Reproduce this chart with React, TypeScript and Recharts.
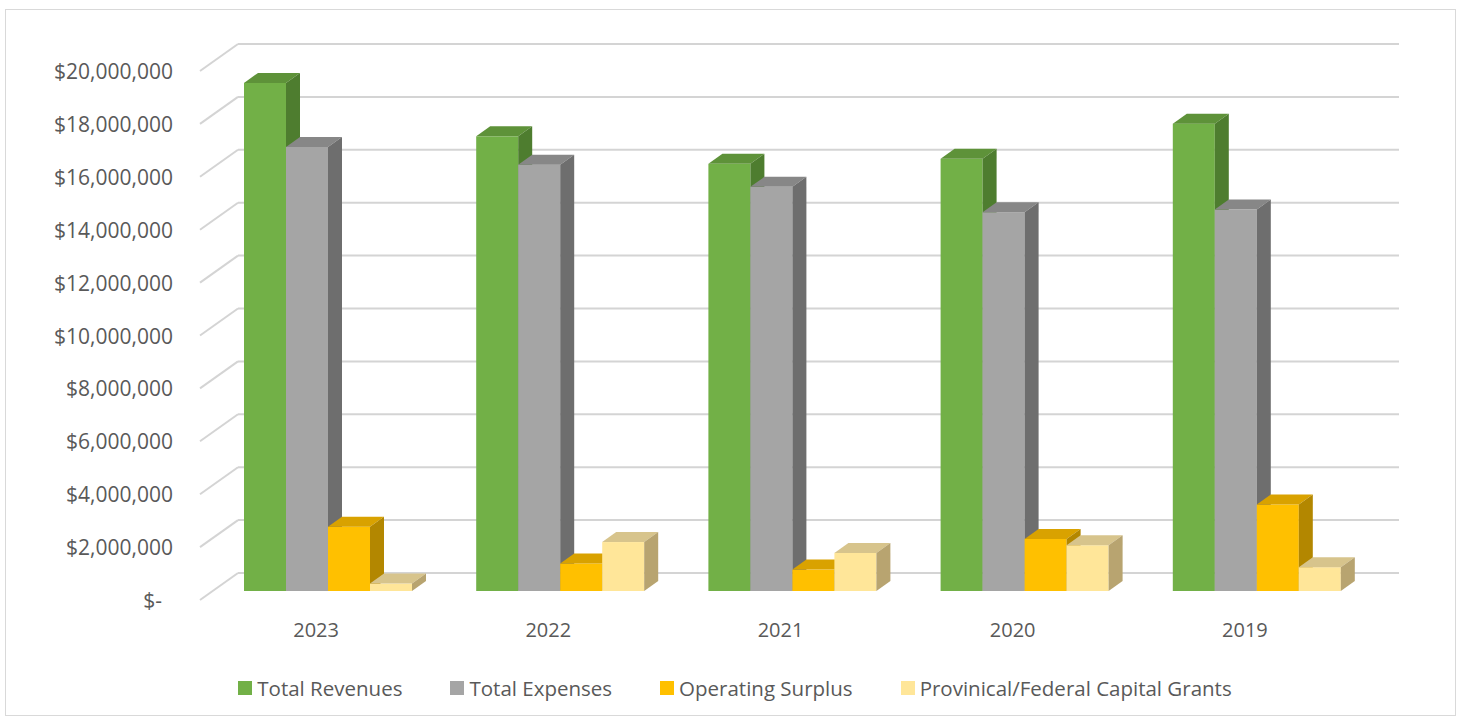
import { Bar, BarChart, CartesianGrid, XAxis, YAxis } from "recharts";

const years = ["2023", "2022", "2021", "2020", "2019"];
const totalRevenues = [19210000, 17190000, 16150000, 16340000, 17670000];
const totalExpenses = [16790000, 16120000, 15280000, 14320000, 14420000];
const operatingSurplus = [2430000, 1040000, 810000, 1970000, 3270000];
const capitalGrants = [280000, 1850000, 1440000, 1730000, 900000];
const yTicks = [0, 2000000, 4000000, 6000000, 8000000, 10000000, 12000000, 14000000, 16000000, 18000000, 20000000];

const data = years.map((year, i) => ({
  year,
  revenues: totalRevenues[i],
  expenses: totalExpenses[i],
  surplus: operatingSurplus[i],
  grants: capitalGrants[i],
}));

const SERIES = [
  { key: "revenues", name: "Total Revenues", face: "#72B047", top: "#5E9239", side: "#4E7D2F" },
  { key: "expenses", name: "Total Expenses", face: "#A5A5A5", top: "#878787", side: "#6E6E6E" },
  { key: "surplus", name: "Operating Surplus", face: "#FFC000", top: "#D9A200", side: "#B38700" },
  { key: "grants", name: "Provinical/Federal Capital Grants", face: "#FFE699", top: "#D7C48C", side: "#B8A470" },
];

// depth of the boxes and of the floor (oblique projection)
const BAR_DX = 14;
const BAR_DY = 10;
const WALL_DX = 26;
const WALL_DY = 18;
const FRONT_DX = 12;
const FRONT_DY = 9;

const PLOT_LEFT = 212;
const PLOT_RIGHT = 1373;
const TEXT = "#595959";
const FONT = "'Open Sans', 'Noto Sans', sans-serif";

function Box3D(props: any) {
  const { x, y, width: w, height: h, face, top, side } = props;
  if (!h || h <= 0) return null;
  return (
    <g>
      <rect x={x} y={y} width={w} height={h} fill={face} />
      <polygon
        points={`${x},${y} ${x + BAR_DX},${y - BAR_DY} ${x + w + BAR_DX},${y - BAR_DY} ${x + w},${y}`}
        fill={top}
      />
      <polygon
        points={`${x + w},${y} ${x + w + BAR_DX},${y - BAR_DY} ${x + w + BAR_DX},${y + h - BAR_DY} ${x + w},${y + h}`}
        fill={side}
      />
    </g>
  );
}

function GridLine(props: any) {
  const y = props.y1;
  if (y == null) return null;
  const backY = y - WALL_DY;
  const backX = PLOT_LEFT + WALL_DX;
  return (
    <g key={props.key}>
      <line x1={PLOT_LEFT - FRONT_DX} y1={y + FRONT_DY} x2={backX} y2={backY} stroke="#D4D4D4" strokeWidth={2} />
      <line x1={backX} y1={backY} x2={PLOT_RIGHT + WALL_DX} y2={backY} stroke="#D4D4D4" strokeWidth={2} />
    </g>
  );
}

function money(v: number) {
  if (v === 0) return "$-";
  return "$" + v.toLocaleString("en-US");
}

function YTick(props: any) {
  const { y, payload } = props;
  const v = payload.value as number;
  return (
    <text
      x={PLOT_LEFT - 39 - (v === 0 ? 11 : 0)}
      y={y + FRONT_DY}
      textAnchor="end"
      dominantBaseline="central"
      fill={TEXT}
      fontSize={21}
      fontFamily={FONT}
    >
      {money(v)}
    </text>
  );
}

function XTick(props: any) {
  const { x, y, payload } = props;
  return (
    <text
      x={x - FRONT_DX}
      y={y + 30}
      textAnchor="middle"
      dominantBaseline="central"
      fill={TEXT}
      fontSize={20}
      fontFamily={FONT}
    >
      {payload.value}
    </text>
  );
}

export default function App() {
  return (
    <div style={{ position: "absolute", left: 0, top: 0, width: 1462, height: 719, background: "#fff", fontFamily: FONT }}>
      <div
        style={{
          position: "absolute",
          left: 5,
          top: 9,
          width: 1449,
          height: 705,
          border: "1px solid #D9D9D9",
        }}
      />
      <BarChart
        width={1462}
        height={719}
        data={data}
        margin={{ top: 62, right: 1462 - PLOT_RIGHT, bottom: 0, left: 0 }}
        barSize={42}
        barGap={0}
        style={{ position: "absolute", left: 0, top: 0 }}
      >
        <CartesianGrid vertical={false} horizontal={(p: any) => <GridLine {...p} />} />
        <XAxis dataKey="year" height={128} axisLine={false} tickLine={false} tick={<XTick />} interval={0} />
        <YAxis
          width={PLOT_LEFT}
          domain={[0, 20000000]}
          ticks={yTicks}
          interval={0}
          axisLine={false}
          tickLine={false}
          tick={<YTick />}
        />
        {SERIES.map((s) => (
          <Bar
            key={s.key}
            dataKey={s.key}
            name={s.name}
            fill={s.face}
            isAnimationActive={false}
            shape={(p: any) => <Box3D {...p} face={s.face} top={s.top} side={s.side} />}
          />
        ))}
      </BarChart>
      <div
        style={{
          position: "absolute",
          left: 0,
          top: 674,
          width: 1470,
          display: "flex",
          justifyContent: "center",
          gap: 48,
          fontSize: 20.5,
          color: TEXT,
          lineHeight: "28px",
        }}
      >
        {SERIES.map((s) => (
          <div key={s.key} style={{ display: "flex", alignItems: "center", gap: 5 }}>
            <span style={{ width: 14, height: 14, background: s.face, display: "inline-block" }} />
            <span>{s.name}</span>
          </div>
        ))}
      </div>
    </div>
  );
}
